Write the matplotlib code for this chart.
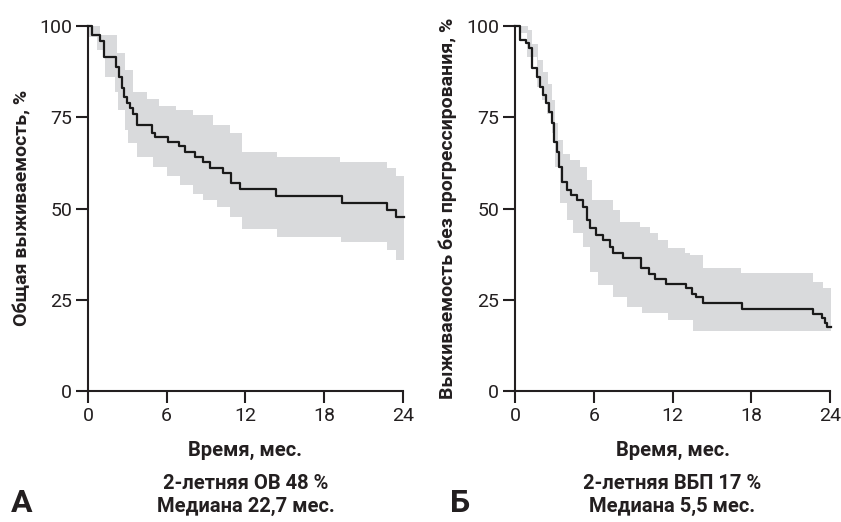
import matplotlib
matplotlib.use("Agg")
import matplotlib.pyplot as plt

plt.rcParams["font.family"] = ["Roboto", "DejaVu Sans"]

INK = "#231f20"
BAND = "#d9dadc"

# Overall survival: Kaplan-Meier steps (months, %)
os_t = [0, 0.3, 0.9, 1.2, 2.1, 2.4, 2.6, 2.75, 2.95, 3.2, 3.45, 3.7, 4.9, 5.1,
        6.1, 6.9, 7.4, 8.15, 8.8, 9.3, 10.3, 10.9, 11.6, 14.3, 19.35, 22.8, 23.5, 24.1]
os_s = [100, 97.5, 96, 91.5, 88.8, 86, 83, 80.5, 79, 77.5, 76, 73, 70.8, 69.7,
        68.3, 67, 65.5, 64.2, 62.8, 61.2, 59.7, 56.9, 55.3, 53.4, 51.5, 49.6, 47.7, 47.7]

os_up_t = [0, 0.91, 2.18, 2.82, 3.45, 4.5, 5.4, 6.7, 8.0, 9.55, 10.8, 11.7, 14.4,
           19.2, 22.75, 23.5, 24.1]
os_up = [100, 97.5, 92.6, 88, 82, 80, 78, 77, 75.6, 73, 70.6, 65.5, 64,
         62.8, 61, 59, 59]
os_lo_t = [0, 0.66, 1.3, 2.06, 2.3, 2.83, 3.07, 3.7, 4.98, 6.0, 7.0, 8.0, 8.8,
           9.8, 10.8, 11.7, 14.4, 19.3, 22.75, 23.5, 24.1]
os_lo = [97, 93.4, 86, 82, 77, 71.5, 68, 64, 61.4, 59, 56.4, 54, 52.3,
         50.4, 47.7, 44.3, 42.3, 40.9, 38.6, 35.9, 35.9]

# Progression-free survival
pfs_t = [0, 0.38, 0.84, 1.1, 1.27, 1.7, 1.9, 2.15, 2.35, 2.6, 2.8, 2.97, 3.2, 3.35,
         3.6, 3.95, 4.3, 4.7, 5.2, 5.46, 5.7, 6.2, 6.7, 7.2, 7.5, 8.2, 9.6, 10.2,
         10.7, 11.5, 13.0, 13.5, 13.8, 14.35, 17.3, 22.7, 23.4, 23.6, 23.8, 24.05]
pfs_s = [100, 96.2, 95.3, 94, 88.5, 86, 83.3, 81, 78.9, 76.4, 73.4, 68.2, 65.5, 61.4,
         57.3, 55, 53.7, 52.3, 50.4, 46.8, 44.6, 42.7, 41.4, 39.5, 37.8, 36.4, 33.7, 32,
         30.6, 29.3, 28.1, 26.7, 25.8, 24.2, 22.5, 21.1, 19.9, 18.6, 17.4, 17.4]

pfs_up_t = [0, 1.0, 1.27, 1.78, 2.16, 2.54, 2.79, 3.05, 3.3, 3.68, 4.19, 4.95, 5.46,
            5.84, 7.44, 8.0, 9.52, 10.29, 10.92, 11.68, 12.95, 13.3, 14.3, 17.2,
            22.7, 23.5, 24.05]
pfs_up = [100, 99, 95, 90.7, 87.4, 84, 79.7, 73.4, 68.8, 65, 63.3, 61.4, 57.8,
          52.3, 49.6, 46.3, 45, 43.3, 41.4, 39.2, 37.8, 37.3, 33.7, 32.3,
          29.9, 28.2, 28.2]
pfs_lo_t = [0, 0.38, 0.89, 1.65, 2.03, 2.41, 2.79, 3.05, 3.43, 3.94, 4.44, 5.2,
            5.71, 6.35, 7.49, 8.51, 9.65, 11.68, 13.59, 24.05]
pfs_lo = [100, 98, 91.5, 83.3, 79.7, 76, 70.6, 61.4, 51.5, 46.8, 43.3, 39.5,
          32.7, 29, 25.8, 23, 21.3, 19.5, 16.5, 16.5]

x_ticks = [0, 6, 12, 18, 24]
y_ticks = [0, 25, 50, 75, 100]

panels = [
    dict(left=88, t=os_t, s=os_s, ut=os_up_t, u=os_up, lt=os_lo_t, l=os_lo,
         ylabel="Общая выживаемость, %", ylab_x=22, letter="А", letter_x=22,
         note="2-летняя ОВ 48 %\nМедиана 22,7 мес."),
    dict(left=515, t=pfs_t, s=pfs_s, ut=pfs_up_t, u=pfs_up, lt=pfs_lo_t, l=pfs_lo,
         ylabel="Выживаемость без прогрессирования, %", ylab_x=448, letter="Б",
         letter_x=460, note="2-летняя ВБП 17 %\nМедиана 5,5 мес."),
]

W, H = 841, 522
fig = plt.figure(figsize=(W / 100, H / 100), dpi=100)


def band(ax, tu, up, tl, lo):
    # merge both step functions onto one time grid
    grid = sorted(set(tu) | set(tl))

    def at(ts, vs, x):
        v = vs[0]
        for ti, vi in zip(ts, vs):
            if ti <= x:
                v = vi
        return v

    ax.fill_between(grid, [at(tl, lo, g) for g in grid], [at(tu, up, g) for g in grid],
                    step="post", color=BAND, lw=0, zorder=1, clip_on=False)


for p in panels:
    ax = fig.add_axes([p["left"] / W, (H - 391) / H, 315 / W, 365 / H])
    band(ax, p["ut"], p["u"], p["lt"], p["l"])
    ax.step(p["t"], p["s"], where="post", color="#1a1a1a", lw=1.6, zorder=3,
            clip_on=False)
    ax.set_xlim(0, 24)
    ax.set_ylim(0, 100)
    ax.set_xticks(x_ticks)
    ax.set_yticks(y_ticks)
    for side in ("top", "right"):
        ax.spines[side].set_visible(False)
    for side in ("left", "bottom"):
        ax.spines[side].set_linewidth(1.5)
        ax.spines[side].set_color(INK)
    ax.tick_params(direction="out", length=8.5, width=1.5, color=INK,
                   labelsize=14, labelcolor=INK, pad=3)

    cx = (p["left"] + 157.5) / W
    fig.text(cx, 1 - 450 / H, "Время, мес.", ha="center", va="center",
             fontsize=14.5, fontweight="bold", color=INK)
    fig.text(cx, 1 - 495 / H, p["note"], ha="center", va="center",
             fontsize=14.5, fontweight="bold", color=INK, linespacing=1.25)
    fig.text(p["ylab_x"] / W, 1 - 208 / H, p["ylabel"], rotation=90,
             ha="center", va="center", fontsize=14, fontweight="bold", color=INK)
    fig.text(p["letter_x"] / W, 1 - 503 / H, p["letter"], ha="center",
             va="center", fontsize=23, fontweight="bold", color=INK)

fig.savefig("out.png", dpi=100)
